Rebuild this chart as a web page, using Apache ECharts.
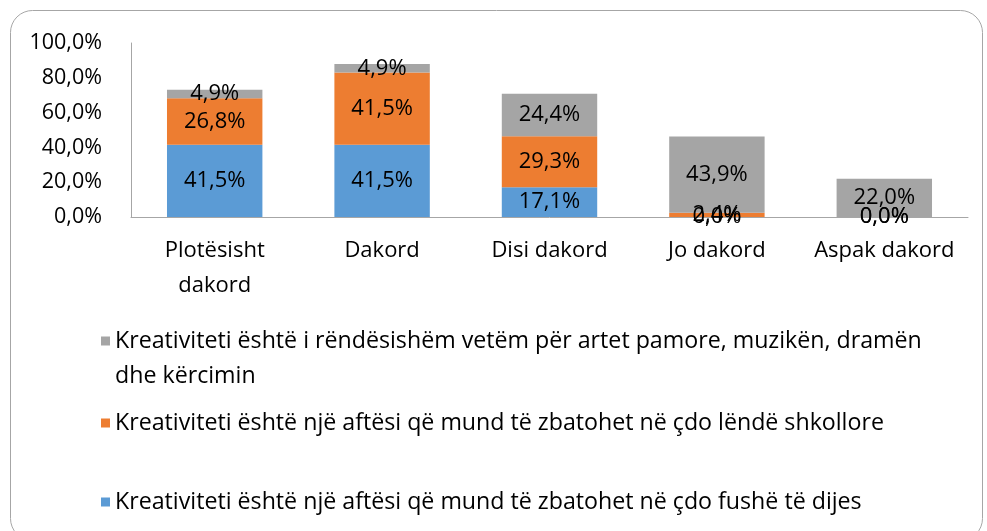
<!DOCTYPE html>
<html><head><meta charset="utf-8">
<script src="https://cdn.jsdelivr.net/npm/echarts@6/dist/echarts.min.js"></script>
<style>html,body{margin:0;padding:0;background:#fff}#c{width:987px;height:531px}</style>
</head><body><div id="c"></div>
<script>
const categories = ['Plotësisht\ndakord', 'Dakord', 'Disi dakord', 'Jo dakord', 'Aspak dakord'];
const seriesNames = [
  'Kreativiteti është një aftësi që mund të zbatohet në çdo fushë të dijes',
  'Kreativiteti është një aftësi që mund të zbatohet në çdo lëndë shkollore',
  'Kreativiteti është i rëndësishëm vetëm për artet pamore, muzikën, dramën dhe kërcimin'
];
const grayLegendLine1 = 'Kreativiteti është i rëndësishëm vetëm për artet pamore, muzikën, dramën';
const grayLegendLine2 = 'dhe kërcimin';
const blueValues = [41.5, 41.5, 17.1, 0.0, 0.0];
const orangeValues = [26.8, 41.5, 29.3, 2.4, 0.0];
const grayValues = [4.9, 4.9, 24.4, 43.9, 22.0];
const yTicks = [0, 20, 40, 60, 80, 100];

const FONT = 'Open Sans';
const LEG_FS = 23.2;
const colors = ['#5B9BD5', '#ED7D31', '#A5A5A5'];
const fmt = v => v.toFixed(1).replace('.', ',') + '%';

function mkSeries(name, data, color) {
  return {
    name, type: 'bar', stack: 'a', data, barWidth: '57%',
    itemStyle: { color },
    label: { show: true, position: 'inside', color: '#000', fontFamily: FONT, fontSize: 22,
      formatter: p => fmt(p.value) }
  };
}

const chart = echarts.init(document.getElementById('c'));
const legendBase = {
  orient: 'vertical', left: 96, itemWidth: 9, itemHeight: 9, itemGap: 0,
  icon: 'rect', selectedMode: false,
  textStyle: { fontFamily: FONT, fontSize: LEG_FS, color: '#000', lineHeight: 35 }
};
chart.setOption({
  animation: false,
  graphic: [
    { type: 'rect', shape: { x: 10.5, y: 10.5, width: 972, height: 530, r: 22 },
      style: { fill: 'none', stroke: '#a6a6a6', lineWidth: 1 }, silent: true },
    { type: 'text', left: 115, top: 376 - 17.5,
      style: { text: grayLegendLine2, fontFamily: FONT, fontSize: LEG_FS, lineHeight: 35, fill: '#000' } }
  ],
  grid: { left: 131, right: 19, top: 43, bottom: 314 },
  legend: [
    Object.assign({}, legendBase, { top: 318.5, data: [seriesNames[2]],
      formatter: () => grayLegendLine1 }),
    Object.assign({}, legendBase, { top: 400.5, data: [seriesNames[1]] }),
    Object.assign({}, legendBase, { top: 479.5, data: [seriesNames[0]] })
  ],
  xAxis: {
    type: 'category', data: categories,
    axisLine: { lineStyle: { color: '#a6a6a6' } },
    axisTick: { show: false },
    axisLabel: { interval: 0, color: '#000', fontFamily: FONT, fontSize: 22, lineHeight: 35, margin: 16 }
  },
  yAxis: {
    type: 'value', min: yTicks[0], max: yTicks[yTicks.length - 1], interval: 20,
    axisLine: { show: true, lineStyle: { color: '#a6a6a6' } },
    axisTick: { show: false },
    splitLine: { show: false },
    axisLabel: { color: '#000', fontFamily: FONT, fontSize: 21.5, margin: 29,
      formatter: v => fmt(v) }
  },
  series: [
    mkSeries(seriesNames[0], blueValues, colors[0]),
    mkSeries(seriesNames[1], orangeValues, colors[1]),
    mkSeries(seriesNames[2], grayValues, colors[2])
  ]
});
</script></body></html>
